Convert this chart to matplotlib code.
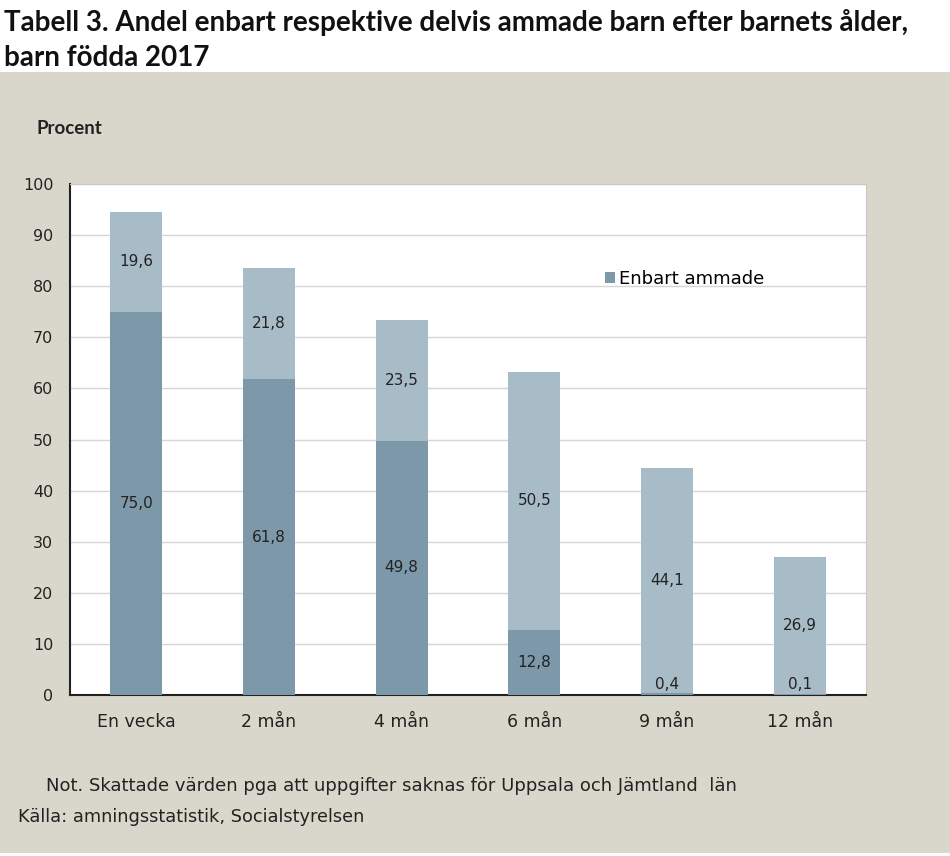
import matplotlib
matplotlib.use("Agg")
import matplotlib.pyplot as plt
from matplotlib.patches import Rectangle
import numpy as np

categories = ["En vecka", "2 mån", "4 mån", "6 mån", "9 mån", "12 mån"]
enbart = [75.0, 61.8, 49.8, 12.8, 0.4, 0.1]
delvis = [19.6, 21.8, 23.5, 50.5, 44.1, 26.9]
yticks = [0, 10, 20, 30, 40, 50, 60, 70, 80, 90, 100]

BG = "#d9d7cb"
DARK = "#7d98a9"
LIGHT = "#a8bcc8"
TXT = "#222222"
BODY = "DejaVu Sans"

fig = plt.figure(figsize=(9.5, 8.56), dpi=100)
fig.patch.set_facecolor("white")
# beige panel
fig.patches.append(Rectangle((0, 3/856), 1, (856-72-3)/856, transform=fig.transFigure,
                             facecolor=BG, edgecolor="none", zorder=-5))

fig.text(0.004, 0.990, "Tabell 3. Andel enbart respektive delvis ammade barn efter barnets ålder,\nbarn födda 2017",
         ha="left", va="top", fontsize=20, fontweight="bold", family="Lato",
         linespacing=1.45, color="#111111")

ax = fig.add_axes([70/950, 1-695/856, (866-70)/950, (695-184)/856])
ax.set_facecolor("white")
x = np.arange(len(categories))
w = 0.39
ax.bar(x, enbart, w, color=DARK, label="Enbart ammade", zorder=3)
ax.bar(x, delvis, w, bottom=enbart, color=LIGHT, zorder=3)

for xi, e, d in zip(x, enbart, delvis):
    ax.text(xi, max(e/2, 2.0), f"{e:.1f}".replace(".", ","), ha="center", va="center",
            fontsize=11, color=TXT, family=BODY, zorder=4)
    ax.text(xi, e + d/2, f"{d:.1f}".replace(".", ","), ha="center", va="center",
            fontsize=11, color=TXT, family=BODY, zorder=4)

ax.set_xlim(-0.5, len(categories)-0.5)
ax.set_ylim(0, 100)
ax.set_yticks(yticks)
ax.set_yticklabels([str(t) for t in yticks], family=BODY, fontsize=11.5, color=TXT)
ax.set_xticks(x)
ax.set_xticklabels(categories, family=BODY, fontsize=12.5, color=TXT)
ax.tick_params(axis="both", length=0)
ax.tick_params(axis="x", pad=13)
ax.tick_params(axis="y", pad=12)
ax.grid(axis="y", color="#d6d6d6", linewidth=1, zorder=0)
ax.set_axisbelow(True)
for s in ["top", "right"]:
    ax.spines[s].set_color("#c8c8c8")
    ax.spines[s].set_linewidth(0.8)
for s in ["left", "bottom"]:
    ax.spines[s].set_color("#222222")
    ax.spines[s].set_linewidth(1.5)

leg = ax.legend(loc="center left", bbox_to_anchor=(0.672, 0.814), frameon=False,
                prop={"family": BODY, "size": 13}, handlelength=0.55, handleheight=0.55,
                handletextpad=0.25, borderpad=0, borderaxespad=0)

fig.text(36/950, 1-128/856, "Procent", ha="left", va="center", fontsize=13.5,
         fontweight="bold", family="Lato", color=TXT)

fig.text(46/950, 1-786/856, "Not. Skattade värden pga att uppgifter saknas för Uppsala och Jämtland  län",
         ha="left", va="center", fontsize=13, family=BODY, color=TXT)
fig.text(18/950, 1-817/856, "Källa: amningsstatistik, Socialstyrelsen",
         ha="left", va="center", fontsize=12.8, family=BODY, color=TXT)

fig.savefig("out.png", dpi=100, facecolor=fig.get_facecolor())
